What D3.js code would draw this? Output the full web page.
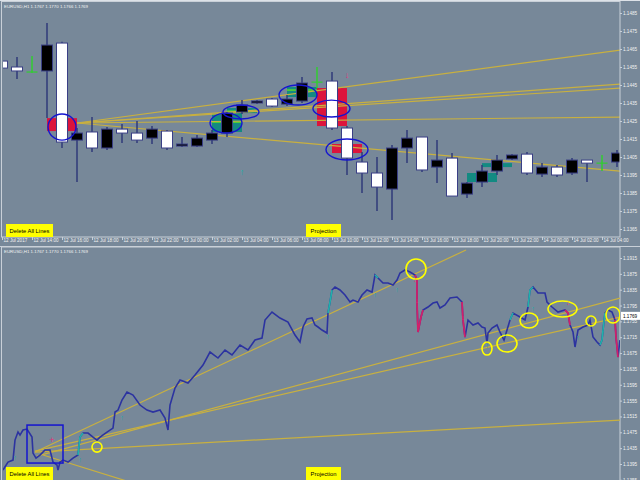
<!DOCTYPE html>
<html><head><meta charset="utf-8">
<script src="https://cdn.jsdelivr.net/npm/d3@7"></script>
<style>body{margin:0;background:#778899;overflow:hidden}svg{display:block}</style>
</head><body><svg width="640" height="480"></svg>
<script>
// ---------- DATA ----------
const topTimes = ["2017-07-12 12:00","2017-07-12 13:00","2017-07-12 14:00","2017-07-12 15:00","2017-07-12 16:00","2017-07-12 17:00","2017-07-12 18:00","2017-07-12 19:00","2017-07-12 20:00","2017-07-12 21:00","2017-07-12 22:00","2017-07-12 23:00",
"2017-07-13 00:00","2017-07-13 01:00","2017-07-13 02:00","2017-07-13 03:00","2017-07-13 04:00","2017-07-13 05:00","2017-07-13 06:00","2017-07-13 07:00","2017-07-13 08:00","2017-07-13 09:00","2017-07-13 10:00","2017-07-13 11:00",
"2017-07-13 12:00","2017-07-13 13:00","2017-07-13 14:00","2017-07-13 15:00","2017-07-13 16:00","2017-07-13 17:00","2017-07-13 18:00","2017-07-13 19:00","2017-07-13 20:00","2017-07-13 21:00","2017-07-13 22:00","2017-07-13 23:00",
"2017-07-14 00:00","2017-07-14 01:00","2017-07-14 02:00","2017-07-14 03:00","2017-07-14 04:00","2017-07-14 05:00"];
const topOpen  = [1.14544,1.14528,1.14522,1.14672,1.14133,1.14183,1.14100,1.14205,1.14183,1.14144,1.14205,1.14100,1.14122,1.14155,1.14183,1.14294,1.14339,1.14361,1.14333,1.14372,1.14461,1.14466,1.14211,1.14044,1.13961,1.13883,1.14100,1.14155,1.13978,1.14033,1.13833,1.13905,1.13972,1.14033,1.14061,1.13961,1.13994,1.13950,1.14033,1.14016,1.14016,1.14072];
const topHigh  = [1.14583,1.14605,1.14611,1.14794,1.14690,1.14211,1.14272,1.14216,1.14233,1.14250,1.14222,1.14200,1.14161,1.14172,1.14200,1.14300,1.14366,1.14366,1.14378,1.14394,1.14494,1.14550,1.14522,1.14222,1.14078,1.14050,1.14116,1.14200,1.14161,1.14144,1.14072,1.13911,1.14005,1.14061,1.14066,1.14078,1.14016,1.14005,1.14044,1.14033,1.14061,1.14089];
const topLow   = [1.14433,1.14483,1.14516,1.14266,1.14100,1.13911,1.14078,1.14089,1.14128,1.14128,1.14122,1.14089,1.14105,1.14105,1.14122,1.14161,1.14289,1.14344,1.14328,1.14333,1.14350,1.14433,1.14200,1.13950,1.13850,1.13750,1.13700,1.14016,1.13967,1.13905,1.13833,1.13822,1.13883,1.13950,1.14033,1.13950,1.13939,1.13939,1.13950,1.13911,1.13972,1.13994];
const topClose = [1.14583,1.14550,1.14522,1.14528,1.14683,1.14144,1.14189,1.14100,1.14205,1.14183,1.14155,1.14194,1.14111,1.14111,1.14144,1.14183,1.14300,1.14350,1.14372,1.14344,1.14361,1.14466,1.14472,1.14211,1.14022,1.13961,1.13872,1.14100,1.14161,1.13994,1.14044,1.13844,1.13911,1.13972,1.14039,1.14066,1.13955,1.13994,1.13961,1.14033,1.14016,1.14022];

const topTickTimes = ["2017-07-12 12:00","2017-07-12 14:00","2017-07-12 16:00","2017-07-12 18:00","2017-07-12 20:00","2017-07-12 22:00","2017-07-13 00:00","2017-07-13 02:00","2017-07-13 04:00","2017-07-13 06:00","2017-07-13 08:00","2017-07-13 10:00","2017-07-13 12:00","2017-07-13 14:00","2017-07-13 16:00","2017-07-13 18:00","2017-07-13 20:00","2017-07-13 22:00","2017-07-14 00:00","2017-07-14 02:00","2017-07-14 04:00"];
const topTickLabels = ["12 Jul 2017","12 Jul 14:00","12 Jul 16:00","12 Jul 18:00","12 Jul 20:00","12 Jul 22:00","13 Jul 00:00","13 Jul 02:00","13 Jul 04:00","13 Jul 06:00","13 Jul 08:00","13 Jul 10:00","13 Jul 12:00","13 Jul 14:00","13 Jul 16:00","13 Jul 18:00","13 Jul 20:00","13 Jul 22:00","14 Jul 00:00","14 Jul 02:00","14 Jul 04:00"];
const topPriceTicks = [1.1485,1.1475,1.1465,1.1455,1.1445,1.1435,1.1425,1.1415,1.1405,1.1395,1.1385,1.1375,1.1365];
const botPriceTicks = [1.1915,1.1875,1.1835,1.1795,1.1755,1.1715,1.1675,1.1635,1.1595,1.1555,1.1515,1.1475,1.1435,1.1395,1.1355];

// top panel annotations (bar index / price)
const topLines = [ // [bar0, price0, bar1, price1]
  [5,1.14239,41.2,1.14644],[5,1.14239,41.2,1.14455],[5,1.14239,41.2,1.14433],[5,1.14239,41.2,1.14272],[5,1.14239,41.2,1.13972]];
const redBoxes = [[3,5,1.14266,1.14194],[21,23,1.14433,1.14222],[22,24,1.14122,1.14072]];
const tealBoxes = [[14,16,1.14294,1.14189],[15,17,1.14322,1.14294],[19,21,1.14439,1.14383],[31,33,1.13961,1.13911],[32,34,1.14016,1.13994]];
const greenLevels = [[14,16,1.14244],[15,17,1.14305],[19,21,1.14422]];
const blueEllipses = [[3.07,4.93,1.14289,1.14144],[13.87,16,1.14294,1.14183],[14.73,17.13,1.14339,1.14261],[18.47,21,1.14450,1.14339],[20.73,23.2,1.14366,1.14272],[21.6,24.4,1.14150,1.14033]];
const topUpArrows = [[16,1.13961]];
const topDownArrows = [[23,1.14500]];

// bottom panel line (bar number, price)
const botBars = [0,5,10,12,15,17,20,24,29,30,33,37,42,47,50,54,55,57,60,65,70,75,77,80,85,90,94,97,104,110,112,115,119,124,130,137,144,150,157,162,165,167,172,177,185,192,200,207,215,222,229,237,245,252,259,262,269,277,285,292,297,300,304,309,312,315,319,324,325,327,329,332,337,342,347,350,355,359,364,369,372,375,380,385,390,394,397,402,407,412,414,414,415,418,420,425,430,434,437,442,447,454,459,460,462,465,470,475,479,482,484,485,489,494,497,501,504,507,510,517,522,525,527,530,535,542,544,549,555,562,565,567,570,572,575,580,585,587,590,594,597,599,600,602,605,609,612,613,615,617];
const botPrices = [1.13797,1.13999,1.14049,1.14554,1.14756,1.14681,1.14807,1.14832,1.14630,1.14226,1.14100,1.14176,1.14302,1.14302,1.13999,1.13923,1.13797,1.13999,1.14049,1.13999,1.14100,1.14176,1.14630,1.14731,1.14731,1.14630,1.14554,1.14630,1.14756,1.14857,1.15261,1.15312,1.15564,1.15766,1.15691,1.15438,1.15312,1.15261,1.15312,1.15110,1.14807,1.15438,1.15867,1.16069,1.15994,1.16196,1.16448,1.16776,1.16625,1.16827,1.16701,1.16953,1.16827,1.17080,1.17130,1.17584,1.17786,1.17635,1.17534,1.17206,1.17029,1.17408,1.17610,1.17635,1.17458,1.17408,1.17332,1.17256,1.17761,1.18039,1.18342,1.18418,1.18342,1.18216,1.18039,1.18089,1.18039,1.18216,1.18342,1.18291,1.18721,1.18645,1.18519,1.18519,1.18468,1.18594,1.18771,1.18847,1.18796,1.18721,1.18594,1.18014,1.17281,1.17660,1.17837,1.17913,1.18014,1.18039,1.17887,1.17963,1.18140,1.18165,1.18039,1.17584,1.17155,1.17584,1.17458,1.17509,1.17408,1.17382,1.17004,1.17256,1.17382,1.17458,1.17281,1.17080,1.17332,1.17584,1.17761,1.17660,1.17584,1.17913,1.18342,1.18418,1.18266,1.18266,1.18039,1.17913,1.17786,1.17837,1.17761,1.17458,1.17281,1.16903,1.17332,1.17408,1.17458,1.17584,1.17155,1.17029,1.16953,1.17080,1.17332,1.17761,1.17837,1.17786,1.17584,1.17155,1.16650,1.17080];
const botPinkSegs = [[412,420],[459,462],[562,567],[612,615]];
const botTealSegs = [[75,80],[325,330],[372,376],[507,512],[525,530],[597,602]];
const botLines = [[32,1.14251,617,1.15060],[32,1.14251,463,1.19352],[34,1.14150,617,1.18140],[32,1.14277,617,1.17660],[40,1.14176,127,1.13494]];
const yellowCircles = [[403,423,1.19125,1.18620],[479,489,1.17029,1.16700],[494,514,1.17206,1.16777],[517,535,1.17761,1.17383],[545,574,1.18064,1.17660],[583,593,1.17686,1.17433],[603,617,1.17913,1.17509],[89,99,1.14504,1.14251]];
const blueBox = [24,60,1.14933,1.13974];
const botDownArrows = [[412,1.1860],[414,1.1805],[460,1.1762],[565,1.1800],[612,1.1765]];
const botUpArrows = [[12,1.1410],[77,1.1405],[119,1.1510],[325,1.1715],[372,1.1820],[394,1.1835],[484,1.1693],[502,1.1718],[530,1.1785],[575,1.1713],[600,1.1725]];
const botPinkCross = [[49,1.1453]];

const header = "EURUSD,H1  1.1767 1.1770 1.1766 1.1769";
const lastPrice = 1.1769;

// ---------- DRAW ----------
const parse = d3.timeParse("%Y-%m-%d %H:%M");
const svg = d3.select("svg");
const FONT = "Liberation Sans, Arial, sans-serif";
const BG = "#778899", FRAME = "#c9d0d8", TXT = "#f2f2f2";
const GOLD = "#c8b040";
svg.append("rect").attr("width",640).attr("height",480).attr("fill",BG);

const T = {x0:3,x1:620,y0:3,y1:237};
const B = {x0:3,x1:620,y0:247,y1:480};

const xTop = d3.scaleTime().domain([parse(topTimes[0]), parse(topTimes[40])]).range([2,602]);
const xIdx = d3.scaleLinear().domain([0,40]).range([2,602]);
const yTop = d3.scaleLinear().domain([1.1485,1.1365]).range([13,229]);
const xBot = d3.scaleLinear().domain([0,617]).range([3,620]);
const yBot = d3.scaleLinear().domain([1.1915,1.1395]).range([258,464]);

const defs = svg.append("defs");
defs.append("clipPath").attr("id","ct").append("rect").attr("x",T.x0).attr("y",T.y0).attr("width",T.x1-T.x0).attr("height",T.y1-T.y0);
defs.append("clipPath").attr("id","cb").append("rect").attr("x",B.x0).attr("y",B.y0).attr("width",B.x1-B.x0).attr("height",B.y1-B.y0);

// ---- top panel ----
const gt = svg.append("g").attr("clip-path","url(#ct)");
gt.selectAll(".rb").data(redBoxes).join("rect").attr("x",d=>xIdx(d[0])).attr("width",d=>xIdx(d[1])-xIdx(d[0]))
  .attr("y",d=>yTop(d[2])).attr("height",d=>yTop(d[3])-yTop(d[2])).attr("fill","#dc143c");
gt.selectAll(".tb").data(tealBoxes).join("rect").attr("x",d=>xIdx(d[0])).attr("width",d=>xIdx(d[1])-xIdx(d[0]))
  .attr("y",d=>yTop(d[2])).attr("height",d=>yTop(d[3])-yTop(d[2])).attr("fill","#138a82");
gt.selectAll(".gl").data(greenLevels).join("line").attr("x1",d=>xIdx(d[0])).attr("x2",d=>xIdx(d[1]))
  .attr("y1",d=>yTop(d[2])).attr("y2",d=>yTop(d[2])).attr("stroke","#7cfc00").attr("stroke-width",1);
gt.selectAll(".tl").data(topLines).join("line").attr("x1",d=>xIdx(d[0])).attr("y1",d=>yTop(d[1]))
  .attr("x2",d=>xIdx(d[2])).attr("y2",d=>yTop(d[3])).attr("stroke",GOLD).attr("stroke-width",1.2);

const candles = topTimes.map((t,i)=>({t:parse(t),o:topOpen[i],h:topHigh[i],l:topLow[i],c:topClose[i]}));
const cg = gt.selectAll(".cd").data(candles).join("g");
cg.append("line").attr("x1",d=>xTop(d.t)).attr("x2",d=>xTop(d.t)).attr("y1",d=>yTop(d.h)).attr("y2",d=>yTop(d.l))
  .attr("stroke",d=>d.o===d.c?"#32cd32":"#2f3a7a").attr("stroke-width",1.5);
cg.filter(d=>d.o!==d.c).append("rect").attr("x",d=>xTop(d.t)-5.5).attr("width",11)
  .attr("y",d=>yTop(Math.max(d.o,d.c))).attr("height",d=>Math.max(1,yTop(Math.min(d.o,d.c))-yTop(Math.max(d.o,d.c))))
  .attr("fill",d=>d.c>d.o?"#ffffff":"#000000").attr("stroke","#3a3f86").attr("stroke-width",1);
cg.filter(d=>d.o===d.c).append("line").attr("x1",d=>xTop(d.t)-5.5).attr("x2",d=>xTop(d.t)+5.5)
  .attr("y1",d=>yTop(d.c)).attr("y2",d=>yTop(d.c)).attr("stroke","#32cd32").attr("stroke-width",1.2);

gt.selectAll(".be").data(blueEllipses).join("ellipse").attr("cx",d=>(xIdx(d[0])+xIdx(d[1]))/2).attr("cy",d=>(yTop(d[2])+yTop(d[3]))/2)
  .attr("rx",d=>(xIdx(d[1])-xIdx(d[0]))/2).attr("ry",d=>(yTop(d[3])-yTop(d[2]))/2)
  .attr("fill","none").attr("stroke","#1515d0").attr("stroke-width",1.4);
gt.selectAll(".ua").data(topUpArrows).join("text").attr("x",d=>xIdx(d[0])).attr("y",d=>yTop(d[1])).attr("text-anchor","middle")
  .attr("dominant-baseline","middle").attr("font-size",9).attr("fill","#20b2aa").attr("font-family",FONT).text("↑");
gt.selectAll(".da").data(topDownArrows).join("text").attr("x",d=>xIdx(d[0])).attr("y",d=>yTop(d[1])).attr("text-anchor","middle")
  .attr("dominant-baseline","middle").attr("font-size",9).attr("fill","#e0307a").attr("font-family",FONT).text("↓");

// frames
svg.append("rect").attr("x",T.x0-1.5).attr("y",T.y0-1.5).attr("width",T.x1-T.x0+1.5).attr("height",T.y1-T.y0+1.5).attr("fill","none").attr("stroke",FRAME);
svg.append("rect").attr("x",B.x0-1.5).attr("y",B.y0).attr("width",B.x1-B.x0+1.5).attr("height",B.y1-B.y0+2).attr("fill","none").attr("stroke",FRAME);
svg.append("line").attr("x1",0).attr("x2",640).attr("y1",0.5).attr("y2",0.5).attr("stroke","#dde2e8");

// top price axis
const ayT = svg.append("g").attr("transform",`translate(${T.x1},0)`).call(d3.axisRight(yTop).tickValues(topPriceTicks).tickSize(2).tickFormat(d3.format(".4f")));
ayT.select(".domain").remove();
// time axis
const ax = svg.append("g").attr("transform",`translate(0,${T.y1})`)
  .call(d3.axisBottom(xTop).tickValues(topTickTimes.map(parse)).tickSize(3).tickFormat((d,i)=>topTickLabels[i]));
ax.select(".domain").remove();
ax.selectAll("text").attr("text-anchor","start").attr("dx",1).attr("dy",-1.5);
svg.append("line").attr("x1",0).attr("x2",640).attr("y1",B.y0-0.5).attr("y2",B.y0-0.5).attr("stroke",FRAME);

// ---- bottom panel ----
const gb = svg.append("g").attr("clip-path","url(#cb)");
gb.selectAll(".bl").data(botLines).join("line").attr("x1",d=>xBot(d[0])).attr("y1",d=>yBot(d[1]))
  .attr("x2",d=>xBot(d[2])).attr("y2",d=>yBot(d[3])).attr("stroke",GOLD).attr("stroke-width",1.2);
const pts = botBars.map((b,i)=>({b,p:botPrices[i]}));
const ln = d3.line().x(d=>xBot(d.b)).y(d=>yBot(d.p));
gb.append("path").attr("d",ln(pts)).attr("fill","none").attr("stroke","#2c33a0").attr("stroke-width",1.6);
botPinkSegs.forEach(s=>gb.append("path").attr("d",ln(pts.filter(d=>d.b>=s[0]&&d.b<=s[1]))).attr("fill","none").attr("stroke","#d0206a").attr("stroke-width",1.8));
botTealSegs.forEach(s=>gb.append("path").attr("d",ln(pts.filter(d=>d.b>=s[0]&&d.b<=s[1]))).attr("fill","none").attr("stroke","#20b2aa").attr("stroke-width",1.6));
gb.append("rect").attr("x",xBot(blueBox[0])).attr("width",xBot(blueBox[1])-xBot(blueBox[0])).attr("y",yBot(blueBox[2]))
  .attr("height",yBot(blueBox[3])-yBot(blueBox[2])).attr("fill","none").attr("stroke","#1515d0").attr("stroke-width",1.5);
gb.selectAll(".yc").data(yellowCircles).join("ellipse").attr("cx",d=>(xBot(d[0])+xBot(d[1]))/2).attr("cy",d=>(yBot(d[2])+yBot(d[3]))/2)
  .attr("rx",d=>(xBot(d[1])-xBot(d[0]))/2).attr("ry",d=>(yBot(d[3])-yBot(d[2]))/2)
  .attr("fill","none").attr("stroke","#ffff00").attr("stroke-width",1.6);
gb.selectAll(".bda").data(botDownArrows).join("text").attr("x",d=>xBot(d[0])).attr("y",d=>yBot(d[1])).attr("text-anchor","middle")
  .attr("dominant-baseline","middle").attr("font-size",7).attr("fill","#e0307a").attr("font-family",FONT).text("↓");
gb.selectAll(".bua").data(botUpArrows).join("text").attr("x",d=>xBot(d[0])).attr("y",d=>yBot(d[1])).attr("text-anchor","middle")
  .attr("dominant-baseline","middle").attr("font-size",7).attr("fill","#20b2aa").attr("font-family",FONT).text("↑");
gb.selectAll(".pc").data(botPinkCross).join("text").attr("x",d=>xBot(d[0])).attr("y",d=>yBot(d[1])).attr("text-anchor","middle")
  .attr("dominant-baseline","middle").attr("font-size",9).attr("fill","#e0307a").attr("font-family",FONT).text("+");

const ayB = svg.append("g").attr("transform",`translate(${B.x1},0)`).call(d3.axisRight(yBot).tickValues(botPriceTicks).tickSize(2).tickFormat(d3.format(".4f")));
ayB.select(".domain").remove();
[ayT,ayB,ax].forEach(g=>{g.selectAll("text").attr("fill",TXT).attr("font-size",4.6).attr("font-family",FONT);g.selectAll("line").attr("stroke",FRAME);});
ayT.selectAll("text").attr("x",3); ayB.selectAll("text").attr("x",3);
const lp = svg.append("g").attr("transform",`translate(${B.x1+1},${yBot(lastPrice)})`);
lp.append("rect").attr("x",0).attr("y",-4).attr("width",20).attr("height",8).attr("fill","#ffffff");
lp.append("text").attr("x",2).attr("y",2).attr("font-size",4.6).attr("font-family",FONT).attr("fill","#000").text(d3.format(".4f")(lastPrice));

// headers
[[4,8],[4,253]].forEach(p=>svg.append("text").attr("x",p[0]).attr("y",p[1]).attr("font-size",4.4).attr("font-family",FONT).attr("fill",TXT).text(header));

// buttons
function button(x,y,w,h,label){
  svg.append("rect").attr("x",x).attr("y",y).attr("width",w).attr("height",h).attr("fill","#ffff00");
  svg.append("text").attr("x",x+w/2).attr("y",y+h/2+2).attr("text-anchor","middle").attr("font-size",5.8).attr("font-family",FONT).attr("fill","#000").text(label);
}
button(6,224,47,13,"Delete All Lines");
button(306,224,35,13,"Projection");
button(6,467,47,13,"Delete All Lines");
button(306,467,35,13,"Projection");
</script></body></html>
